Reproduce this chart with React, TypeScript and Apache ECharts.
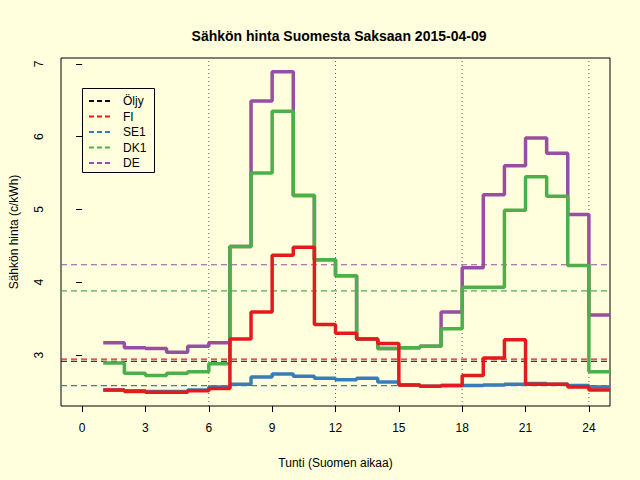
import React, { useEffect, useRef } from "react";
import * as echarts from "echarts";

const hours = [1,2,3,4,5,6,7,8,9,10,11,12,13,14,15,16,17,18,19,20,21,22,23,24];
const fi = [2.52,2.50,2.49,2.49,2.51,2.54,3.22,3.59,4.37,4.48,3.42,3.30,3.22,3.16,2.59,2.57,2.58,2.72,2.96,3.21,2.60,2.60,2.56,2.52];
const se1 = [2.52,2.51,2.50,2.50,2.52,2.56,2.60,2.70,2.74,2.71,2.68,2.66,2.68,2.63,2.59,2.57,2.58,2.58,2.59,2.60,2.61,2.60,2.58,2.56];
const dk1 = [2.89,2.75,2.72,2.75,2.77,2.88,4.49,5.50,6.35,5.19,4.31,4.09,3.22,3.09,3.10,3.12,3.36,3.93,3.93,4.99,5.45,5.18,4.23,2.77];
const de = [3.17,3.10,3.09,3.04,3.12,3.17,4.49,6.49,6.89,5.19,4.31,4.09,3.22,3.09,3.10,3.12,3.59,4.20,5.20,5.60,5.98,5.77,4.93,3.55];
const avgs = { oljy: 2.915, fi: 2.945, se1: 2.58, dk1: 3.88, de: 4.24 };
const xTicks = [0,3,6,9,12,15,18,21,24];
const yTicks = [3,4,5,6,7];
const vlines = [6,12,18,24];
const legendNames = ["Öljy","FI","SE1","DK1","DE"];
const colors = { oljy: "#000000", fi: "#e41a1c", se1: "#377eb8", dk1: "#4daf4a", de: "#984ea3" };
const legendColors = [colors.oljy, colors.fi, colors.se1, colors.dk1, colors.de];
const FONT = "Liberation Sans";

const steps = (v: number[]) => [...hours.map((h, i) => [h, v[i]]), [25, v[v.length - 1]]];

export default function App() {
  const ref = useRef<HTMLDivElement>(null);
  useEffect(() => {
    const chart = echarts.init(ref.current!, null, { renderer: "svg" });
    const line = (name: string, v: number[], c: string) => ({
      type: "line", name, data: steps(v), step: "end", showSymbol: false,
      lineStyle: { color: c, width: 3.5 }, z: 3,
    });
    const hline = (y: number, c: string) => ({
      type: "line", data: [[-1, y], [25, y]], showSymbol: false,
      lineStyle: { color: c, width: 1.2, type: [6, 4] }, z: 2,
    });
    const vline = (x: number) => ({
      type: "line", data: [[x, 2.3], [x, 7.08]], showSymbol: false,
      lineStyle: { color: "#333", width: 0.8, type: [1, 3] }, z: 1,
    });
    const lg: any[] = [{ type: "rect", left: 80, top: 86, shape: { width: 72, height: 84 }, style: { fill: "none", stroke: "#000", lineWidth: 1 } }];
    legendNames.forEach((n, i) => {
      const y = 101 + i * 15.5;
      lg.push({ type: "line", shape: { x1: 89, y1: y, x2: 111, y2: y }, style: { stroke: legendColors[i], lineWidth: 2, lineDash: [5, 3] } });
      lg.push({ type: "text", x: 123, y, style: { text: n, fill: "#000", font: `12px '${FONT}', sans-serif`, textVerticalAlign: "middle" } });
    });
    chart.setOption({
      animation: false,
      backgroundColor: "#ffffdd",
      title: { text: "Sähkön hinta Suomesta Saksaan 2015-04-09", left: 334, top: 24, textAlign: "center",
        textStyle: { fontSize: 14, fontWeight: "bold", color: "#000", fontFamily: FONT } },
      grid: { left: 58, right: 30, top: 58, bottom: 74, show: true, borderColor: "#000", borderWidth: 1 },
      xAxis: { type: "value", min: -1, max: 25, name: "Tunti (Suomen aikaa)", nameLocation: "middle", nameGap: 51,
        nameTextStyle: { fontSize: 12, color: "#000", fontFamily: FONT },
        axisLine: { show: false }, splitLine: { show: false },
        axisTick: { show: true, customValues: xTicks, length: 6, lineStyle: { color: "#000" } },
        axisLabel: { customValues: xTicks, color: "#000", fontSize: 12, margin: 16, fontFamily: FONT } },
      yAxis: { type: "value", min: 2.3, max: 7.08, name: "Sähkön hinta (c/kWh)", nameLocation: "middle", nameGap: 41,
        nameTextStyle: { fontSize: 12, color: "#000", fontFamily: FONT },
        axisLine: { show: false }, splitLine: { show: false },
        axisTick: { show: true, customValues: yTicks, length: 6, lineStyle: { color: "#000" } },
        axisLabel: { customValues: yTicks, color: "#000", fontSize: 12, margin: 16, rotate: 90, fontFamily: FONT } },
      series: [
        ...vlines.map(vline),
        hline(avgs.oljy, colors.oljy), hline(avgs.fi, colors.fi), hline(avgs.se1, colors.se1),
        hline(avgs.dk1, colors.dk1), hline(avgs.de, colors.de),
        line("DE", de, colors.de), line("DK1", dk1, colors.dk1), line("SE1", se1, colors.se1), line("FI", fi, colors.fi),
      ],
      graphic: lg,
    });
    return () => chart.dispose();
  }, []);
  return <div ref={ref} style={{ width: 640, height: 480, position: "absolute", left: 0, top: 0 }} />;
}
